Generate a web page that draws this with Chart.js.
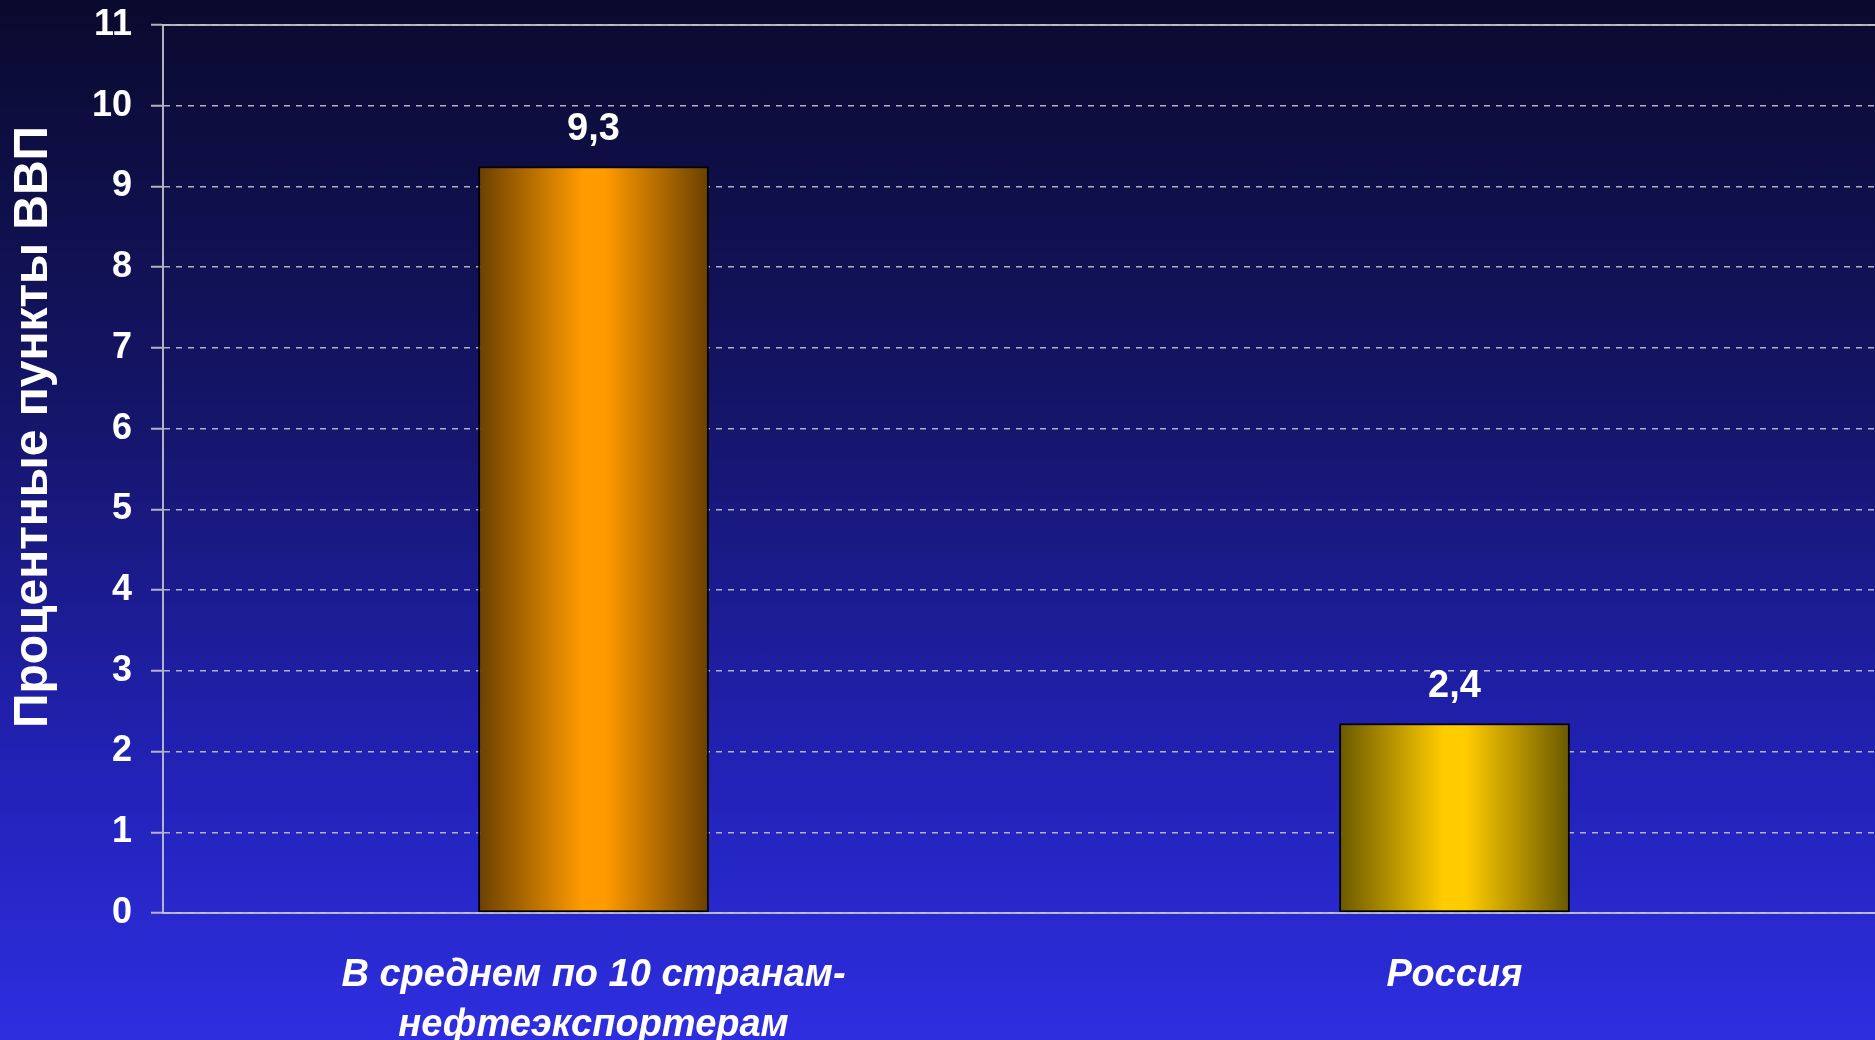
<!DOCTYPE html>
<html>
<head>
<meta charset="utf-8">
<script src="https://cdn.jsdelivr.net/npm/chart.js@4"></script>
<style>
  html, body { margin: 0; padding: 0; }
  body {
    width: 1875px; height: 1040px; overflow: hidden;
    background: linear-gradient(to bottom, #0a0a2e 0%, #15156a 40%, #2222b8 75%, #2e2ee0 100%);
  }
  /* a little wider than the window so the plot runs off the right edge */
  #wrap { position: relative; width: 1885px; height: 1040px; }
</style>
</head>
<body>
<div id="wrap"><canvas id="chart"></canvas></div>
<script>
// Data
const categories = [['В среднем по 10 странам-', 'нефтеэкспортерам'], 'Россия'];
const values = [9.25, 2.35];
const valueLabels = ['9,3', '2,4'];
const yTitle = 'Процентные пункты ВВП';

// Styles
const barEdge = ['#6a4000', '#6a5800'];
const barMid = ['#ff9a00', '#ffcc00'];
const barFraction = 0.268;
const FONT = '"Liberation Sans", Arial, sans-serif';
const GRID = 'rgba(195,195,205,0.9)';

// Helper: horizontal gradient across each bar
function barFill(c) {
  const chart = c.chart;
  const xs = chart.scales.x;
  const i = c.dataIndex;
  if (!xs || !chart.chartArea || i == null) return barMid[i || 0];
  const cx = xs.getPixelForValue(i);
  const w = xs.width / categories.length * barFraction;
  const g = chart.ctx.createLinearGradient(cx - w / 2, 0, cx + w / 2, 0);
  g.addColorStop(0, barEdge[i]);
  g.addColorStop(0.45, barMid[i]);
  g.addColorStop(0.55, barMid[i]);
  g.addColorStop(1, barEdge[i]);
  return g;
}

// Value labels above bars
const valueLabelPlugin = {
  id: 'valueLabels',
  afterDatasetsDraw(chart) {
    const ctx = chart.ctx;
    const meta = chart.getDatasetMeta(0);
    ctx.save();
    ctx.fillStyle = '#ffffff';
    ctx.font = 'bold 38px ' + FONT;
    ctx.textAlign = 'center';
    ctx.textBaseline = 'middle';
    meta.data.forEach((el, i) => {
      ctx.fillText(valueLabels[i], el.x, el.y - 37);
    });
    ctx.restore();
  }
};

// Rotated y-axis title
const yTitlePlugin = {
  id: 'yTitle',
  afterDraw(chart) {
    const ctx = chart.ctx;
    ctx.save();
    ctx.translate(34, 427);
    ctx.rotate(-Math.PI / 2);
    ctx.fillStyle = '#ffffff';
    ctx.font = 'bold 48px ' + FONT;
    ctx.textAlign = 'center';
    ctx.textBaseline = 'middle';
    ctx.fillText(yTitle, 0, 0);
    ctx.restore();
  }
};

new Chart(document.getElementById('chart'), {
  type: 'bar',
  data: {
    labels: categories,
    datasets: [{
      data: values,
      backgroundColor: barFill,
      borderColor: '#000000',
      borderWidth: 2,
      borderSkipped: false,
      categoryPercentage: 1,
      barPercentage: barFraction
    }]
  },
  options: {
    responsive: true,
    maintainAspectRatio: false,
    animation: false,
    layout: { padding: { top: 25, right: 0, left: 0, bottom: 0 } },
    plugins: {
      legend: { display: false },
      tooltip: { enabled: false }
    },
    scales: {
      x: {
        grid: { display: false },
        border: { display: true, color: GRID, width: 2 },
        ticks: {
          color: '#ffffff',
          padding: 30,
          maxRotation: 0,
          font: { family: FONT, size: 38, weight: 'bold', style: 'italic', lineHeight: 1.3 }
        },
        afterFit(scale) { scale.height = 127; }
      },
      xTop: {
        axis: 'x',
        position: 'top',
        grid: { display: false },
        ticks: { display: false },
        border: { display: true, color: GRID, width: 2 },
        afterFit(scale) { scale.height = 0; }
      },
      y: {
        min: 0,
        max: 11,
        ticks: {
          stepSize: 1,
          color: '#ffffff',
          padding: 19,
          font: { family: FONT, size: 36, weight: 'bold' }
        },
        grid: {
          color: GRID,
          lineWidth: 1.5,
          tickLength: 12,
          tickBorderDash: [],
          tickColor: GRID,
          tickWidth: 2
        },
        border: { display: true, color: GRID, width: 2, dash: [6, 6] },
        afterFit(scale) {
          scale.width = 163;
          scale.paddingTop = 0;
          scale.paddingBottom = 0;
        }
      }
    }
  },
  plugins: [valueLabelPlugin, yTitlePlugin]
});
</script>
</body>
</html>
